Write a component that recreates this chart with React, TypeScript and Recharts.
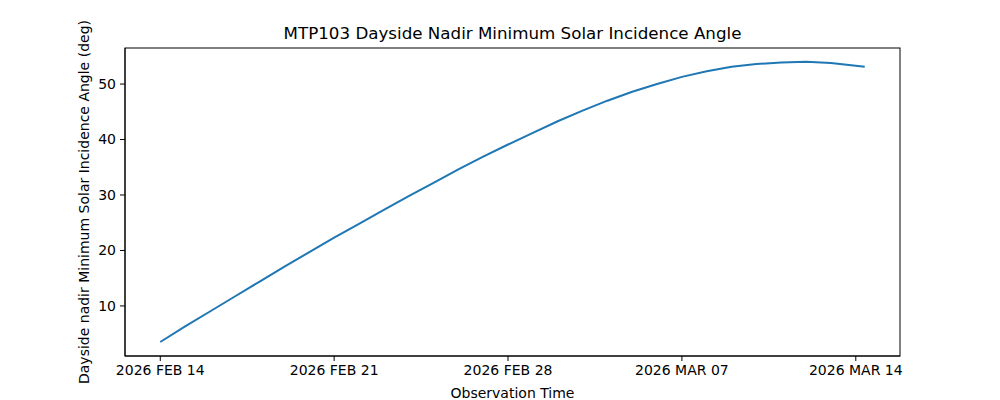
import { LineChart, Line, XAxis, YAxis, Label } from 'recharts';

// days since 2026 FEB 14 00:00
const DAYS = [
  0, 1, 2, 3, 4, 5, 6, 7, 8, 9, 10, 11, 12, 13, 14, 15, 16, 17, 18, 19, 20, 21, 22, 23, 24, 25, 26,
  27, 28, 28.36,
];
const ANGLES = [
  3.5, 6.3, 9.0, 11.7, 14.4, 17.1, 19.7, 22.3, 24.8, 27.3, 29.8, 32.2, 34.6, 36.9, 39.1, 41.2, 43.3,
  45.2, 47.0, 48.6, 50.0, 51.3, 52.3, 53.1, 53.6, 53.9, 54.0, 53.8, 53.3, 53.1,
];

const X_TICKS = [0, 7, 14, 21, 28];
const X_TICK_LABELS = ['2026 FEB 14', '2026 FEB 21', '2026 FEB 28', '2026 MAR 07', '2026 MAR 14'];
const Y_TICKS = [10, 20, 30, 40, 50];

const FONT = '"DejaVu Sans", sans-serif';

const data = DAYS.map((d, i) => ({ day: d, angle: ANGLES[i] }));

function formatDay(value: number): string {
  const idx = X_TICKS.indexOf(value);
  return idx >= 0 ? X_TICK_LABELS[idx] : '';
}

export default function App() {
  const tick = { fill: '#000', fontSize: 14, fontFamily: FONT };
  return (
    <div style={{ position: 'absolute', left: 0, top: 0, width: 1000, height: 400, background: '#fff' }}>
      <div
        style={{
          position: 'absolute',
          left: 125,
          width: 775,
          top: 23,
          textAlign: 'center',
          fontFamily: FONT,
          fontSize: 16.7,
          lineHeight: '20px',
          color: '#000',
        }}
      >
        MTP103 Dayside Nadir Minimum Solar Incidence Angle
      </div>
      <LineChart width={1000} height={400} data={data} margin={{ top: 48, right: 100, left: 0, bottom: 0 }}>
        <XAxis
          dataKey="day"
          type="number"
          domain={[-1.42, 29.78]}
          ticks={X_TICKS}
          tickFormatter={formatDay}
          tick={tick}
          tickSize={5}
          tickMargin={4}
          height={44}
          stroke="#000"
          interval={0}
          allowDataOverflow
        >
          <Label value="Observation Time" position="insideBottom" offset={2} fill="#000" fontSize={14} fontFamily={FONT} />
        </XAxis>
        <YAxis
          type="number"
          domain={[0.975, 56.5]}
          ticks={Y_TICKS}
          tick={tick}
          tickSize={5}
          tickMargin={4}
          width={125}
          stroke="#000"
          interval={0}
          allowDataOverflow
        >
          <Label
            value="Dayside nadir Minimum Solar Incidence Angle (deg)"
            angle={-90}
            position="center"
            dx={21.5}
            fill="#000"
            fontSize={14}
            fontFamily={FONT}
          />
        </YAxis>
        <Line
          type="linear"
          dataKey="angle"
          stroke="#1f77b4"
          strokeWidth={2}
          dot={false}
          isAnimationActive={false}
        />
      </LineChart>
      {/* axes frame (top and right spines) */}
      <svg
        width={1000}
        height={400}
        style={{ position: 'absolute', left: 0, top: 0, pointerEvents: 'none' }}
      >
        <rect x={125} y={48} width={775} height={308} fill="none" stroke="#000" strokeWidth={1} />
      </svg>
    </div>
  );
}
